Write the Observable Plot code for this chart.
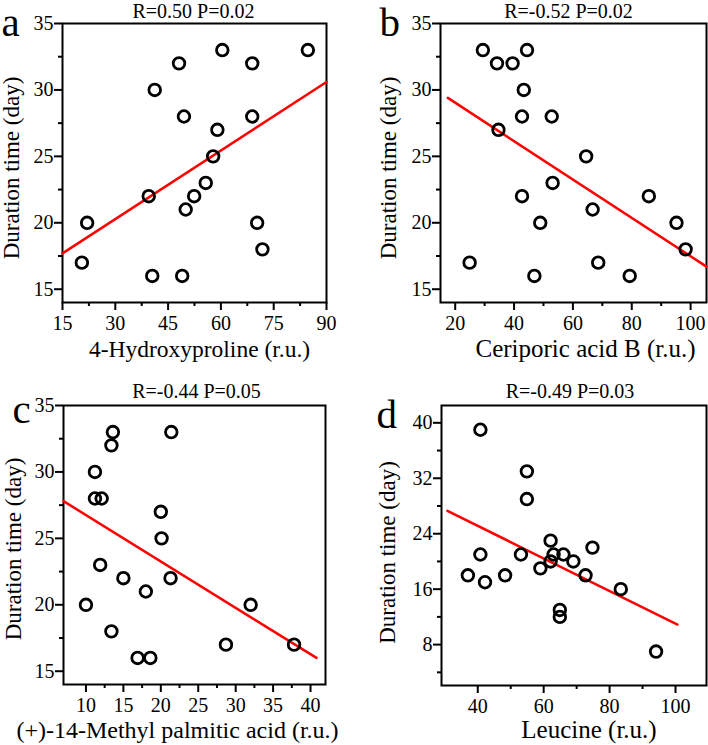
<!DOCTYPE html>
<html><head><meta charset="utf-8">
<script src="https://cdn.jsdelivr.net/npm/d3@7"></script>
<script src="https://cdn.jsdelivr.net/npm/@observablehq/plot@0.6"></script>
<style>
body{margin:0;background:#fff;}
#wrap{position:relative;width:708px;height:745px;background:#fff;overflow:hidden;}
.p{position:absolute;}
#wrap svg, #wrap svg text{font-family:"Liberation Serif","Times New Roman",serif !important;}
</style></head><body><div id="wrap"></div>
<script>
// ---- data ----
const aX = [20.5, 22, 39.5, 40.5, 41.2, 48.1, 49.5, 49, 50, 52.4, 55.7, 57.8, 59, 60.4, 68.9, 68.9, 70.3, 71.8, 84.7];
const aY = [17, 20, 22, 16, 30, 32, 28, 16, 21, 22, 23, 25, 27, 33, 32, 28, 20, 18, 33];
const aFitX = [15, 90], aFitY = [17.7, 30.6];

const bX = [24.9, 29.4, 34.2, 34.7, 39.5, 44.4, 43.3, 42.7, 42.7, 46.9, 48.9, 52.8, 53.1, 64.5, 66.7, 68.6, 79.3, 85.8, 95.2, 98.3];
const bY = [17, 33, 32, 27, 32, 33, 30, 28, 22, 16, 20, 28, 23, 25, 21, 17, 16, 22, 20, 18];
const bFitX = [17.5, 105.4], bFitY = [29.4, 16.7];

const cX = [10, 11.2, 11.2, 12.1, 11.9, 13.6, 13.4, 13.4, 15, 16.9, 18.6, 18, 20, 20.1, 21.3, 21.4, 28.7, 32, 37.8];
const cY = [20, 30, 28, 28, 23, 33, 32, 18, 22, 16, 16, 21, 27, 25, 22, 33, 17, 20, 17];
const cFitX = [7, 40.8], cFitY = [27.8, 16.0];

const dX = [40.8, 37, 40.8, 42.2, 48.3, 53.1, 54.9, 54.9, 59, 62.1, 62.1, 63, 66, 64.9, 64.9, 69, 72.7, 74.8, 83.4, 94.1];
const dY = [39, 18, 21, 17, 18, 21, 33, 29, 19, 23, 20, 21, 21, 13, 12, 20, 18, 22, 16, 7];
const dFitX = [30.8, 100.6], dFitY = [27.3, 10.9];

const titles = ["R=0.50 P=0.02", "R=-0.52 P=0.02", "R=-0.44 P=0.05", "R=-0.49 P=0.03"];
const xLabels = ["4-Hydroxyproline (r.u.)", "Ceriporic acid B (r.u.)", "(+)-14-Methyl palmitic acid (r.u.)", "Leucine (r.u.)"];
const yLabel = "Duration time (day)";
const letters = ["a", "b", "c", "d"];

const aXTicks = [15, 30, 45, 60, 75, 90], aXMinor = [22.5, 37.5, 52.5, 67.5, 82.5];
const bXTicks = [20, 40, 60, 80, 100], bXMinor = [30, 50, 70, 90];
const cXTicks = [10, 15, 20, 25, 30, 35, 40], cXMinor = [12.5, 17.5, 22.5, 27.5, 32.5, 37.5];
const dXTicks = [40, 60, 80, 100], dXMinor = [50, 70, 90];
const abcYTicks = [15, 20, 25, 30, 35], abcYMinor = [17.5, 22.5, 27.5, 32.5];
const dYTicks = [8, 16, 24, 32, 40], dYMinor = [4, 12, 20, 28, 36];

// ---- drawing ----
const FONT = "Liberation Serif";
function panel(o) {
  return Plot.plot({
    width: 354, height: o.h,
    marginLeft: o.ml, marginRight: o.mr, marginTop: o.mt, marginBottom: o.mb,
    style: {fontFamily: FONT, fontSize: "20px", background: "white", color: "black", overflow: "visible"},
    x: {domain: o.xd},
    y: {domain: o.yd},
    marks: [
      Plot.axisX({ticks: o.xt, tickSize: 8, tickPadding: 5, strokeWidth: 2, label: null, fontSize: 20, fontFamily: FONT, fontVariant: "normal"}),
      Plot.axisX({ticks: o.xm, tickSize: 4, tickFormat: () => "", strokeWidth: 2, label: null}),
      Plot.axisY({ticks: o.yt, tickSize: 8, tickPadding: 1, strokeWidth: 2, label: null, fontSize: 20, fontFamily: FONT, fontVariant: "normal"}),
      Plot.axisY({ticks: o.ym, tickSize: 4, tickFormat: () => "", strokeWidth: 2, label: null}),
      Plot.frame({stroke: "black", strokeWidth: 2}),
      Plot.line(o.fx.map((x, i) => [x, o.fy[i]]), {stroke: "#ff0000", strokeWidth: 2.5}),
      Plot.dot(o.X.map((x, i) => [x, o.Y[i]]), {r: 5.8, stroke: "black", strokeWidth: 2.8, fill: "none"}),
      Plot.text([o.title], {frameAnchor: "top", dx: o.tdx, dy: o.tdy, lineAnchor: "bottom", fontSize: 20, fontFamily: FONT}),
      Plot.text([o.xl], {frameAnchor: "bottom", dx: o.xldx, dy: o.xldy, lineAnchor: "bottom", fontSize: o.xfs, fontFamily: FONT}),
      Plot.text([yLabel], {frameAnchor: "left", textAnchor: "middle", rotate: -90, dx: o.yldx, dy: o.yldy, lineAnchor: "top", fontSize: 23, fontFamily: FONT}),
      Plot.text([o.letter], {frameAnchor: "top-left", textAnchor: "start", lineAnchor: "bottom", dx: o.ldx, dy: o.ldy, fontSize: 41, fontFamily: FONT})
    ]
  });
}

const cfgs = [
  {left: 0, top: 0, h: 372, ml: 62, mr: 28, mt: 23, mb: 70, xd: [15, 90], yd: [14, 35], xt: aXTicks, xm: aXMinor, yt: abcYTicks, ym: abcYMinor,
   X: aX, Y: aY, fx: aFitX, fy: aFitY, title: titles[0], tdx: -1, tdy: -6, xl: xLabels[0], xfs: 23.5, xldx: 5, xldy: 54, yldx: -60, yldy: 5, letter: letters[0], ldx: -61, ldy: 12},
  {left: 354, top: 0, h: 372, ml: 86, mr: 2, mt: 23, mb: 70, xd: [15, 105.4], yd: [14, 35], xt: bXTicks, xm: bXMinor, yt: abcYTicks, ym: abcYMinor,
   X: bX, Y: bY, fx: bFitX, fy: bFitY, title: titles[1], tdx: -5, tdy: -6, xl: xLabels[1], xfs: 25, xldx: 12, xldy: 54, yldx: -61, yldy: 5, letter: letters[1], ldx: -61, ldy: 12},
  {left: 0, top: 372, h: 373, ml: 63, mr: 29, mt: 33, mb: 61, xd: [7, 42], yd: [14, 35], xt: cXTicks, xm: cXMinor, yt: abcYTicks, ym: abcYMinor,
   X: cX, Y: cY, fx: cFitX, fy: cFitY, title: titles[2], tdx: 2, tdy: -8, xl: xLabels[2], xfs: 24, xldx: -17, xldy: 53, yldx: -59, yldy: 4, letter: letters[2], ldx: -51, ldy: 17},
  {left: 354, top: 372, h: 373, ml: 87, mr: 2, mt: 33, mb: 60, xd: [29, 109.4], yd: [2.1, 42.5], xt: dXTicks, xm: dXMinor, yt: dYTicks, ym: dYMinor,
   X: dX, Y: dY, fx: dFitX, fy: dFitY, title: titles[3], tdx: -4, tdy: -8, xl: xLabels[3], xfs: 25, xldx: 15, xldy: 52, yldx: -63, yldy: 7, letter: letters[3], ldx: -65, ldy: 22}
];

const wrap = document.getElementById("wrap");
for (const c of cfgs) {
  const div = document.createElement("div");
  div.className = "p";
  div.style.left = c.left + "px";
  div.style.top = c.top + "px";
  div.appendChild(panel(c));
  wrap.appendChild(div);
}
</script>
</body></html>
